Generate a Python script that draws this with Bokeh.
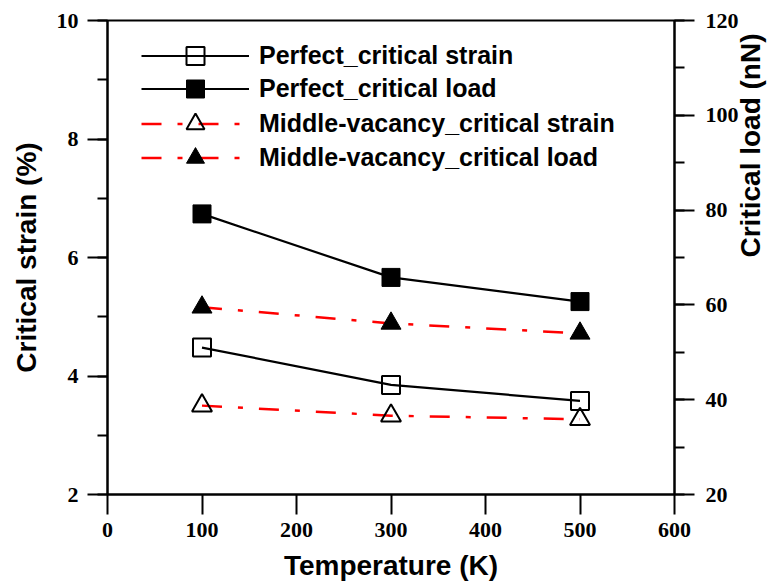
import math
from bokeh.plotting import figure
from bokeh.models import Range1d, LinearAxis, SingleIntervalTicker, Legend, LegendItem
from bokeh.embed import file_html
from bokeh.resources import INLINE

# ---- data ----
temperature = [100, 300, 500]                 # K
perfect_strain = [4.48, 3.85, 3.58]           # %  (left axis)
perfect_load = [79.2, 65.8, 60.7]             # nN (right axis)
vacancy_strain = [3.50, 3.33, 3.27]           # %  (left axis)
vacancy_load = [59.5, 56.1, 54.0]             # nN (right axis)

labels = ["Perfect_critical strain", "Perfect_critical load",
          "Middle-vacancy_critical strain", "Middle-vacancy_critical load"]

FRAME_H = 474
p = figure(frame_width=567, frame_height=FRAME_H,
           x_range=Range1d(0, 600), y_range=Range1d(2, 10),
           output_backend="svg", toolbar_location=None,
           min_border_left=107, min_border_right=106,
           min_border_top=20, min_border_bottom=93,
           background_fill_color="white", border_fill_color="white")
p.extra_y_ranges = {"load": Range1d(20, 120)}
p.xgrid.visible = False
p.ygrid.visible = False
p.outline_line_color = "black"
p.outline_line_width = 2

def style_axis(ax, standoff, title_standoff):
    ax.axis_line_width = 2
    ax.axis_line_color = "black"
    ax.major_tick_line_width = 2
    ax.minor_tick_line_width = 2
    ax.major_tick_in = 0
    ax.major_tick_out = 20
    ax.minor_tick_in = 0
    ax.minor_tick_out = 10
    ax.major_label_text_font = "Liberation Serif"
    ax.major_label_text_font_style = "bold"
    ax.major_label_text_font_size = "22px"
    ax.major_label_text_color = "black"
    ax.major_label_standoff = standoff
    ax.axis_label_text_font = "Liberation Sans"
    ax.axis_label_text_font_style = "bold"
    ax.axis_label_text_font_size = "28px"
    ax.axis_label_text_color = "black"
    ax.axis_label_standoff = title_standoff

xax = p.xaxis[0]
xax.ticker = SingleIntervalTicker(interval=100, num_minor_ticks=0)
xax.axis_label = "Temperature (K)"
style_axis(xax, 8, 10)

yax = p.yaxis[0]
yax.ticker = SingleIntervalTicker(interval=2, num_minor_ticks=2)
yax.axis_label = "Critical strain (%)"
style_axis(yax, 9, 12)

rax = LinearAxis(y_range_name="load",
                 ticker=SingleIntervalTicker(interval=20, num_minor_ticks=2),
                 axis_label="Critical load (nN)")
style_axis(rax, 11, 9)
rax.axis_label_orientation = math.pi / 2
p.add_layout(rax, "right")

dash = "20 16 5 16"

l1 = p.line(temperature, perfect_strain, line_color="black", line_width=2.2)
l2 = p.line(temperature, perfect_load, y_range_name="load", line_color="black", line_width=2.2)
l3 = p.line(temperature, vacancy_strain, line_color="red", line_width=2.5, line_dash=dash)
l4 = p.line(temperature, vacancy_load, y_range_name="load", line_color="red", line_width=2.5, line_dash=dash)

s1 = p.scatter(temperature, perfect_strain, marker="square", size=18,
               fill_alpha=0, line_color="black", line_width=2)
s2 = p.scatter(temperature, perfect_load, y_range_name="load", marker="square", size=18,
               fill_color="black", line_color="black", line_width=1)
s3 = p.scatter(temperature, vacancy_strain, marker="triangle", size=20,
               fill_alpha=0, line_color="black", line_width=2)
s4 = p.scatter(temperature, vacancy_load, y_range_name="load", marker="triangle", size=20,
               fill_color="black", line_color="black", line_width=1)

# one single-item legend per row so the rows can sit 34px apart with big markers
rows = [(labels[0], [l1, s1]), (labels[1], [l2, s2]),
        (labels[2], [l3, s3]), (labels[3], [l4, s4])]
row_centres = [35, 68, 103, 137]   # px below the frame top
GLYPH_H = 45
for (lab, rends), yc in zip(rows, row_centres):
    lg = Legend(items=[LegendItem(label=lab, renderers=rends)],
                location=(34, FRAME_H - yc - GLYPH_H / 2),
                border_line_color=None, background_fill_alpha=0,
                label_text_font="Liberation Sans", label_text_font_style="bold",
                label_text_font_size="25px", label_text_color="black",
                glyph_width=108, glyph_height=GLYPH_H,
                padding=0, margin=0, label_standoff=10)
    p.add_layout(lg)

open("out.html", "w").write(file_html(p, INLINE))
